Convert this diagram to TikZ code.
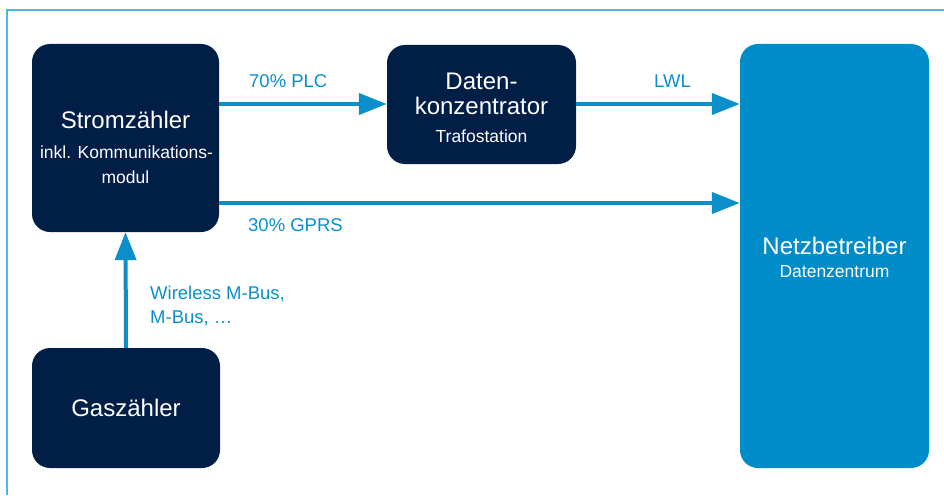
\documentclass[tikz,border=0pt]{standalone}
\usepackage{fontspec}
\setmainfont{Liberation Sans}
\usetikzlibrary{arrows.meta}
\definecolor{navy}{HTML}{001E46}
\definecolor{netzblue}{HTML}{008CC8}
\definecolor{arrblue}{HTML}{0A8FCB}
\definecolor{framecol}{HTML}{4DB6E2}
\newcommand{\bigf}{\fontsize{24}{28}\selectfont}
\newcommand{\smallf}{\fontsize{17.5}{20}\selectfont}
\newcommand{\labf}{\fontsize{18.5}{22}\selectfont}
\begin{document}
\begin{tikzpicture}[x=1pt,y=-1pt,
  box/.style={rounded corners=18pt, inner sep=0pt, draw=none},
  darkbox/.style={box, fill=navy},
  bluebox/.style={box, fill=netzblue},
  title/.style={anchor=base, inner sep=0pt, text=white, font=\bigf},
  sub/.style={anchor=base, inner sep=0pt, text=white, font=\smallf},
  lab/.style={anchor=base west, inner sep=0pt, text=arrblue, font=\labf},
  arr/.style={line width=4pt, draw=arrblue, -{Triangle[length=28pt,width=21pt]}},
  framestyle/.style={line width=2pt, draw=framecol}]
\useasboundingbox (0,0) rectangle (944,495);
% frame
\coordinate (f1) at (7,495);
\coordinate (f2) at (7,10);
\coordinate (f3) at (944,10);
\draw[framestyle] (f1) -- (f2) -- (f3);
% boxes
\node[darkbox, minimum width=187pt, minimum height=188pt] (strom) at (125.5,138) {};
\node[darkbox, minimum width=189pt, minimum height=119pt] (konz) at (481.5,104.5) {};
\node[bluebox, minimum width=189pt, minimum height=424pt] (netz) at (834.5,256) {};
\node[darkbox, minimum width=188pt, minimum height=120pt] (gas) at (126,408) {};
% box texts
\node[title] (t1) at (125.5,128) {Stromzähler};
\node[sub] (t2) at (126.5,158) {inkl. Kommunikations-};
\node[sub] (t3) at (125.5,183) {modul};
\node[title] (t4) at (481.5,89) {Daten-};
\node[title] (t5) at (481.5,114) {konzentrator};
\node[sub] (t6) at (481.5,142) {Trafostation};
\node[title] (t7) at (834.5,254) {Netzbetreiber};
\node[sub] (t8) at (834.5,277) {Datenzentrum};
\node[title] (t9) at (126,416) {Gaszähler};
% connectors
\coordinate (yplc) at (0,104);
\coordinate (ygprs) at (0,203);
\draw[arr] (strom.east |- yplc) -- (konz.west |- yplc);
\draw[arr] (konz.east |- yplc) -- (netz.west |- yplc);
\draw[arr] (strom.east |- ygprs) -- (netz.west |- ygprs);
\draw[arr] (gas.north) -- (strom.south);
% labels
\node[lab] (l1) at (249,87) {70\% PLC};
\node[lab] (l2) at (654,87) {LWL};
\node[lab] (l3) at (248,231) {30\% GPRS};
\node[lab] (l4) at (150,299) {Wireless M-Bus,};
\node[lab] (l5) at (150,323) {M-Bus, …};
\end{tikzpicture}
\end{document}
